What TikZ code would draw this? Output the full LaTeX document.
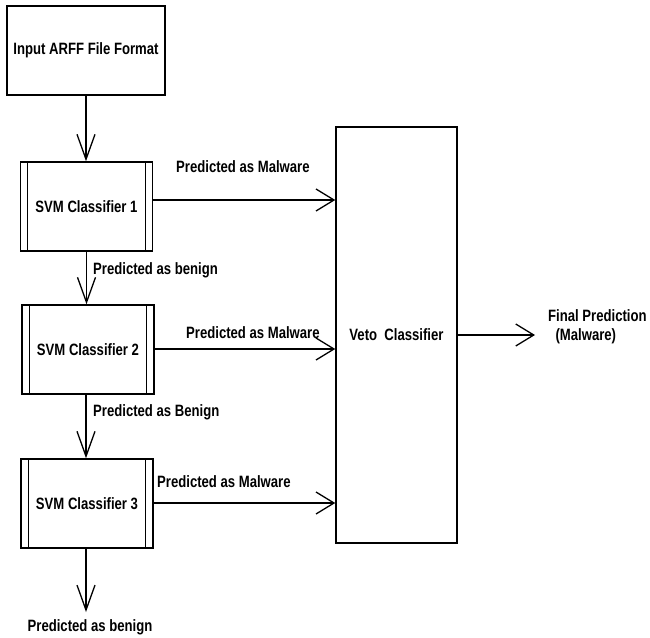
\documentclass[tikz,border=0pt]{standalone}
\usepackage{fontspec}
\newfontfamily\labfont{Liberation Sans}[FakeStretch=0.8]
\usetikzlibrary{arrows.meta}
\begin{document}
\begin{tikzpicture}[x=1pt,y=-1pt,
  every node/.style={font=\labfont\bfseries\fontsize{16.4}{19}\selectfont, inner sep=0pt},
  box/.style={draw, line width=1.5pt, rectangle, minimum width=#1},
  svmbox/.style={box=132pt, minimum height=89pt},
  lbl/.style={anchor=west},
  conn/.style={line width=1.3pt},
  varrow/.style={conn, -{Straight Barb[length=25pt,width=18pt,line width=1.3pt]}},
  harrow/.style={conn, -{Straight Barb[length=18pt,width=22pt,line width=1.3pt]}}]
\useasboundingbox (0,0) rectangle (650,637);
\node[box=158pt, minimum height=89pt] (in) at (86,50.5) {Input ARFF File Format};
\node[svmbox] (s1) at (86.5,206.5) {SVM Classifier 1};
\node[svmbox] (s2) at (88,349.5) {SVM Classifier 2};
\node[svmbox] (s3) at (87,503.5) {SVM Classifier 3};
\foreach \s in {s1,s2,s3}{
  \draw[line width=1.3pt] ([xshift=8pt]\s.north west) -- ([xshift=8pt]\s.south west);
  \draw[line width=1.3pt] ([xshift=-8pt]\s.north east) -- ([xshift=-8pt]\s.south east);
}
\node[box=121pt, minimum height=416pt] (veto) at (396.5,335) {Veto\ \ Classifier};
\coordinate (fp) at (535,335);
\coordinate (bend) at (86,612);
\node[lbl, align=left] (final) at (548,327) {Final Prediction\\\hspace{0.45em}(Malware)};
\node[lbl] (m1) at (176,167) {Predicted as Malware};
\node[lbl] (m2) at (186,333) {Predicted as Malware};
\node[lbl] (m3) at (157,482) {Predicted as Malware};
\node[lbl] (b1) at (93,270) {Predicted as benign};
\node[lbl] (b2) at (93,412) {Predicted as Benign};
\node (b3) at (90,627) {Predicted as benign};
\draw[varrow] (in.south) -- (in.south |- s1.north);
\draw[varrow] (s1.south) -- (s1.south |- s2.north);
\draw[varrow] (s2.south -| in.south) -- (in.south |- s3.north);
\draw[varrow] (s3.south -| bend) -- (bend);
\draw[harrow] (s1.east |- 0,200) -- (veto.west |- 0,200);
\draw[harrow] (s2.east |- 0,349) -- (veto.west |- 0,349);
\draw[harrow] (s3.east |- 0,503) -- (veto.west |- 0,503);
\draw[harrow] (veto.east |- fp) -- (fp);
\end{tikzpicture}
\end{document}
